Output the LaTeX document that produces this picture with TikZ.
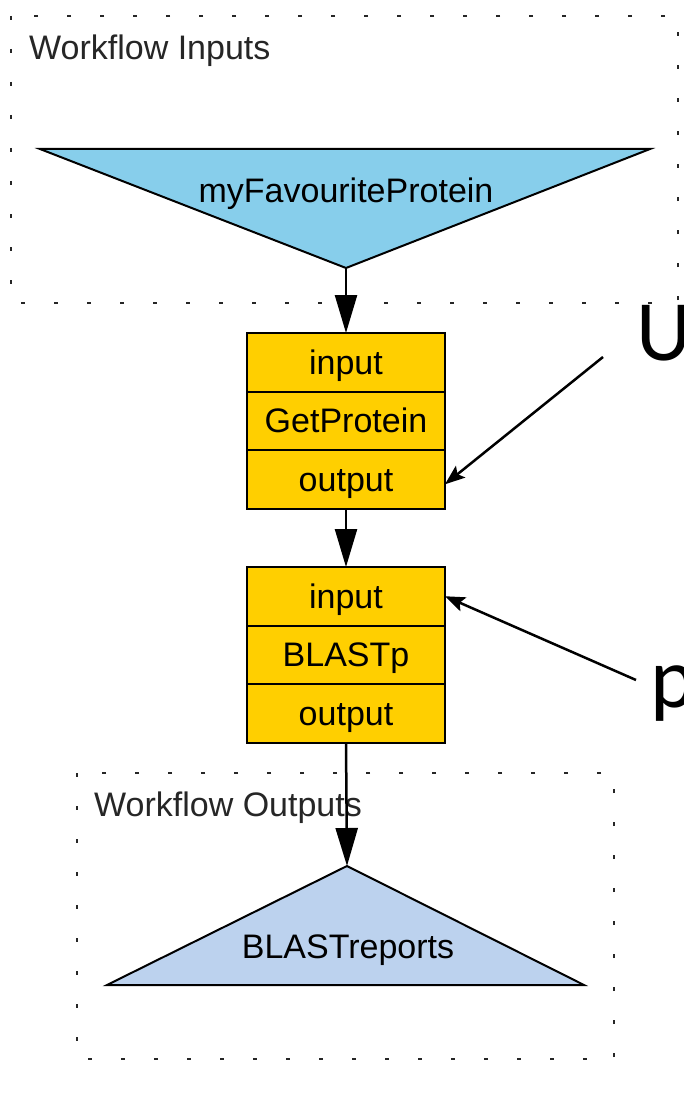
\documentclass[tikz,border=0pt]{standalone}
\usepackage{fontspec}
\setmainfont{Liberation Sans}
\newfontfamily\notefont{Carlito}
\usetikzlibrary{arrows.meta}
\definecolor{inblue}{RGB}{135,206,235}
\definecolor{outblue}{RGB}{188,210,238}
\definecolor{procgold}{RGB}{255,207,0}
\begin{document}
\begin{tikzpicture}[x=1pt,y=-1pt,
  group/.style={draw=black!85, line width=2.5pt, dash pattern=on 4pt off 29pt},
  grouplabel/.style={anchor=base west, inner sep=0pt, text=black!85,
    font=\fontsize{34}{40}\selectfont},
  portbox/.style={draw, line width=2pt, fill=procgold, minimum width=198pt,
    minimum height=58.5pt, inner sep=0pt, outer sep=0pt,
    text height=24pt, text depth=0pt, font=\fontsize{34}{40}\selectfont},
  tri/.style={draw, line width=2pt, line join=miter},
  trilabel/.style={anchor=base, inner sep=0pt, font=\fontsize{34}{40}\selectfont},
  flow/.style={line width=2.5pt, -{Triangle[length=38pt,width=22pt]}},
  note/.style={line width=2.5pt, -{Stealth[length=20pt,width=15pt,inset=4pt]}},
  bignote/.style={anchor=base west, inner sep=0pt, font=\notefont\fontsize{86}{96}\selectfont}]

\clip (0,0) rectangle (683,1102);
\fill[white] (0,0) rectangle (683,1102);

% workflow input group
\draw[group] (11,16) rectangle (678,303);
\node[grouplabel] (inLabel) at (29,60) {Workflow Inputs};
\draw[tri, fill=inblue] (40,149) -- (650,149) -- (346,268) -- cycle;
\coordinate (inApex) at (346,268);
\node[trilabel] (inName) at (346,202) {myFavouriteProtein};

% processor GetProtein
\node[portbox] (g1in)   at (346,362.25) {input};
\node[portbox] (g1name) at (346,420.75) {GetProtein};
\node[portbox] (g1out)  at (346,479.25) {output};

% processor BLASTp
\node[portbox] (g2in)   at (346,596.25) {input};
\node[portbox] (g2name) at (346,654.75) {BLASTp};
\node[portbox] (g2out)  at (346,713.25) {output};

% workflow output group
\draw[group] (77,773) rectangle (614,1059);
\node[grouplabel] (outLabel) at (94,816) {Workflow Outputs};
\draw[tri, fill=outblue] (107,985) -- (584,985) -- (347,866) -- cycle;
\coordinate (outApex) at (347,866);
\node[trilabel] (outName) at (348,958) {BLASTreports};

% data links
\draw[flow] (inApex) -- (g1in.north);
\draw[flow] (g1out.south) -- (g2in.north);
\draw[flow] (g2out.south) -- (outApex);

% callouts
\node[bignote] (uNote) at (636,360) {U};
\node[bignote] (pNote) at (650,707) {p};
\coordinate (uTail) at (603,357);
\coordinate (pTail) at (636,680);
\draw[note] (uTail) -- ([yshift=-5pt]g1out.east);
\draw[note] (pTail) -- (g2in.east);
\end{tikzpicture}
\end{document}
